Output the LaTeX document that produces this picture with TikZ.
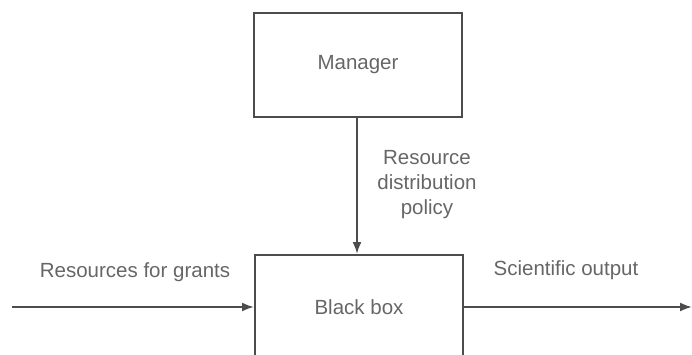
\documentclass[tikz,border=0pt]{standalone}
\usepackage{fontspec}
\setmainfont{Liberation Sans}
\usepackage{tikz}
\usetikzlibrary{arrows.meta}

\begin{document}
\begin{tikzpicture}[x=1pt, y=1pt,
    >={Latex[length=12pt,width=9pt]},
    block/.style={draw=black!70, line width=2pt, minimum width=208pt, minimum height=104pt, inner sep=0pt},
    lbl/.style={text=black!60, font=\fontsize{20.5}{25}\selectfont, align=center},
    flow/.style={->, line width=2pt, draw=black!70}]
          \useasboundingbox (0,0) rectangle (692,354);
          \clip (0,0) rectangle (692,354);
          % the two boxes
          \node[block, lbl] (manager) at (358,289) {Manager};
          \node[block, lbl] (blackbox) at (359,47) {Black box};
          % free ends of the side arrows
          \coordinate (inflow) at (12,47);
          \coordinate (outflow) at (692,47);
          \draw [flow] (manager.south -| 357,0) -- (blackbox.north -| 357,0);
          \draw [flow] (inflow) -- (blackbox.west);
          \draw [flow] (blackbox.east) -- (outflow);
          % labels
          \node[lbl] (policy) at (427,169) {Resource\\distribution\\policy};
          \node[lbl] (grants) at (135,82) {Resources for grants};
          \node[lbl] (output) at (566,84) {Scientific output};
        \end{tikzpicture}
\end{document}
